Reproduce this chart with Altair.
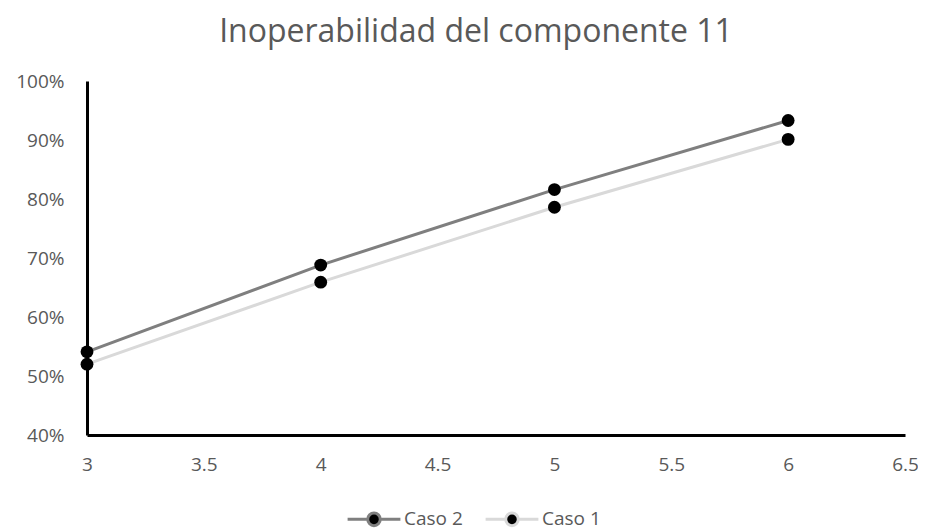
import altair as alt
import pandas as pd

x_vals = [3, 4, 5, 6]
caso2 = [0.541, 0.688, 0.816, 0.933]
caso1 = [0.520, 0.659, 0.786, 0.901]
series_names = ["Caso 2", "Caso 1"]
series_colors = ["#7f7f7f", "#d9d9d9"]
x_ticks = [3, 3.5, 4, 4.5, 5, 5.5, 6, 6.5]
y_ticks = [0.4, 0.5, 0.6, 0.7, 0.8, 0.9, 1.0]

rows = []
for name, vals in zip(series_names, [caso2, caso1]):
    for xv, yv in zip(x_vals, vals):
        rows.append({"x": xv, "y": yv, "serie": name})
df = pd.DataFrame(rows)

r = 0.38
legend_path = (f"M-1.6,0 L-{r},0 M{r},0 L1.6,0 "
               f"M{r},0 A{r},{r} 0 1,1 -{r},0 A{r},{r} 0 1,1 {r},0 Z")

x_enc = alt.X("x:Q", scale=alt.Scale(domain=[3, 6.5], nice=False, zero=False),
              axis=alt.Axis(values=x_ticks, format="~g", title=None, grid=False,
                            ticks=False, labelFlush=False,
                            domainColor="black", domainWidth=3,
                            labelFontSize=19, labelColor="#595959",
                            labelPadding=20, labelFont="Open Sans"))
y_enc = alt.Y("y:Q", scale=alt.Scale(domain=[0.4, 1.0], nice=False, zero=False),
              axis=alt.Axis(values=y_ticks, format=".0%", title=None, grid=False,
                            ticks=False, labelFlush=False,
                            domainColor="black", domainWidth=3,
                            labelFontSize=19, labelColor="#595959",
                            labelPadding=23, labelFont="Open Sans"))

color_enc = alt.Color("serie:N",
                      scale=alt.Scale(domain=series_names, range=series_colors),
                      sort=series_names,
                      legend=alt.Legend(title=None, orient="none", direction="horizontal",
                                        legendX=269, legendY=420,
                                        symbolType=legend_path, symbolSize=1089,
                                        symbolStrokeWidth=3, symbolFillColor="black",
                                        labelFontSize=19, labelColor="#595959",
                                        labelFont="Open Sans", columnPadding=16,
                                        labelOffset=12))

lines = alt.Chart(df).mark_line(strokeWidth=3).encode(
    x=x_enc, y=y_enc, color=color_enc,
    order=alt.Order("x:Q"),
    detail="serie:N",
)
points = alt.Chart(df).mark_circle(size=165, color="black", opacity=1).encode(
    x=x_enc, y=y_enc, detail="serie:N"
)

chart = alt.layer(lines, points).properties(
    width=818, height=354,
    padding={"left": 79, "top": 73, "right": 13, "bottom": 97},
    autosize=alt.AutoSizeParams(type="none"),
    background="white",
    title=alt.Title("Inoperabilidad del componente 11", fontSize=32,
                    font="Open Sans", fontWeight="normal", color="#595959",
                    anchor="middle", dx=-20, offset=23),
).configure_view(stroke=None, strokeWidth=0)

chart.save("out.html", embed_options={"renderer": "svg", "actions": False})
